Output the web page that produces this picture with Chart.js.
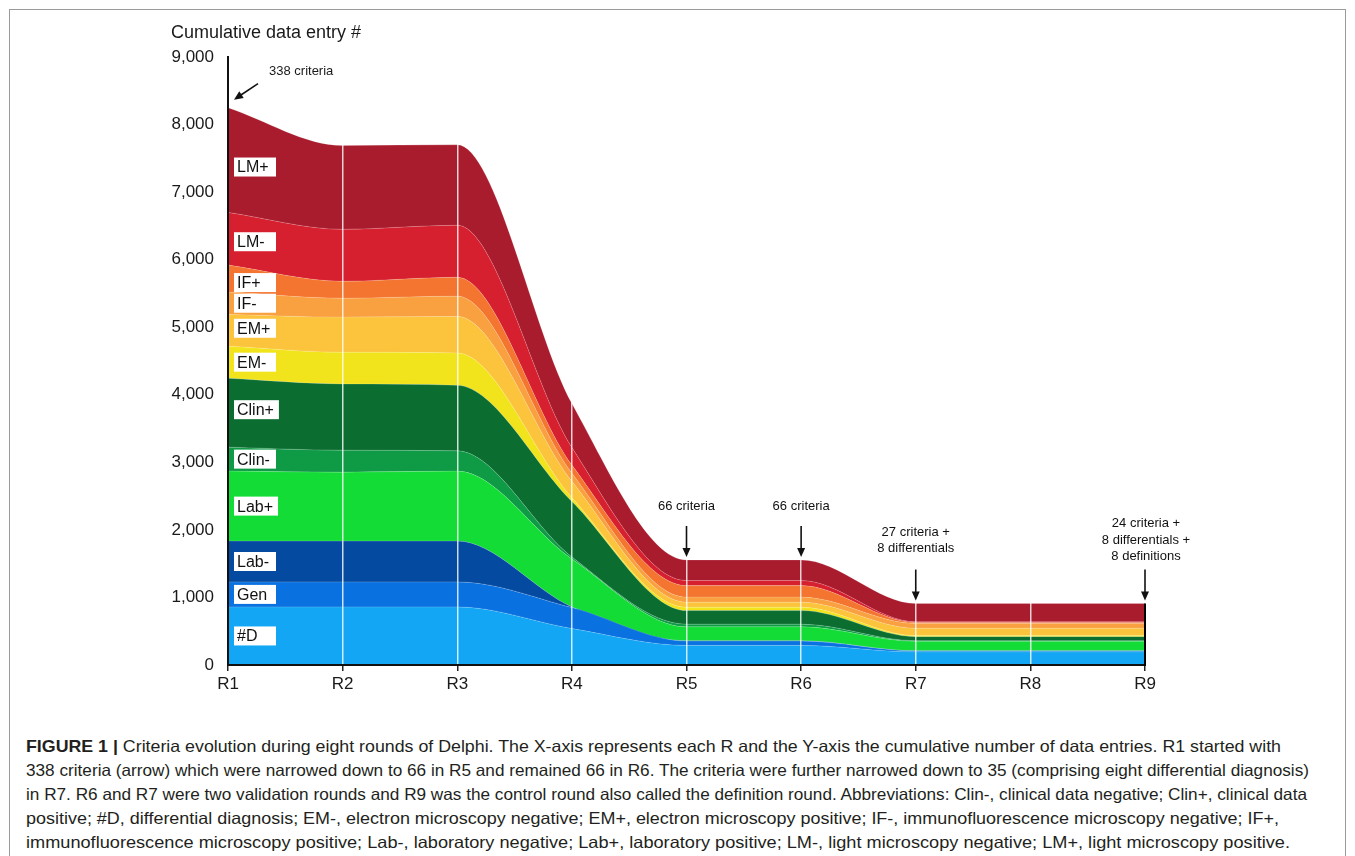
<!DOCTYPE html>
<html>
<head>
<meta charset="utf-8">
<script src="https://cdn.jsdelivr.net/npm/chart.js@4.4.1/dist/chart.umd.min.js"></script>
<style>
body{margin:0;background:#fff;width:1355px;height:856px;overflow:hidden;position:relative;font-family:"Liberation Sans",Arial,sans-serif;}
#frame{position:absolute;left:9px;top:9px;right:9px;bottom:-20px;border:1px solid #9a9a9a;}
#chart{position:absolute;left:0;top:0;}
#caption{position:absolute;left:26px;top:734px;color:#231f20;font-size:16.5px;}
#caption div{white-space:nowrap;height:24px;line-height:24px;transform-origin:0 50%;}
</style>
</head>
<body>
<div id="frame"></div>
<canvas id="chart" width="1355" height="720"></canvas>
<div id="caption">
<div><b>FIGURE 1 |</b> Criteria evolution during eight rounds of Delphi. The X-axis represents each R and the Y-axis the cumulative number of data entries. R1 started with</div>
<div>338 criteria (arrow) which were narrowed down to 66 in R5 and remained 66 in R6. The criteria were further narrowed down to 35 (comprising eight differential diagnosis)</div>
<div>in R7. R6 and R7 were two validation rounds and R9 was the control round also called the definition round. Abbreviations: Clin-, clinical data negative; Clin+, clinical data</div>
<div>positive; #D, differential diagnosis; EM-, electron microscopy negative; EM+, electron microscopy positive; IF-, immunofluorescence microscopy negative; IF+,</div>
<div>immunofluorescence microscopy positive; Lab-, laboratory negative; Lab+, laboratory positive; LM-, light microscopy negative; LM+, light microscopy positive.</div>
</div>
<script>
// rounds on the x axis
var rounds=['R1','R2','R3','R4','R5','R6','R7','R8','R9'];
var yTicks=[0,1000,2000,3000,4000,5000,6000,7000,8000,9000];

// series, bottom to top of the stack
var seriesNames=['#D','Gen','Lab-','Lab+','Clin-','Clin+','EM-','EM+','IF-','IF+','LM-','LM+'];
var dD   =[860,860,860,540,290,290,195,195,195];
var gen  =[370,370,370,310, 65, 65, 15, 15, 15];
var labN =[604,604,604, 10,  5,  5,  0,  0,  0];
var labP =[1036,1021,1036,710,205,205,140,140,140];
var clinN=[355,325,300, 30, 40, 40, 10, 10, 10];
var clinP=[1020,980,970,820,200,200, 60, 60, 60];
var emN  =[475,470,480, 60, 50, 50, 15, 15, 15];
var emP  =[470,520,540,240, 75, 75,110,110,110];
var ifN  =[330,280,300,120, 75, 75, 70, 70, 70];
var ifP  =[400,250,280,120,170,170, 15, 15, 15];
var lmN  =[780,770,770,260, 75, 75, 10, 10, 10];
var lmP  =[1550,1240,1190,650,305,305,270,270,270];

var colors=['#12a6f4','#0a72e0','#034aa0','#14dc36','#0f9a46','#0b6e30','#f2e41c','#fcc33c','#f9a040','#f47530','#d7202f','#a91c2e'];
// small nudges of the label boxes at R1 (px)
var labelShift=[0,0,0,0,0,-3,0,-2,0,4,3,7];

// annotations above the stack
var notes=[
  {at:4,lines:['66 criteria']},
  {at:5,lines:['66 criteria']},
  {at:6,lines:['27 criteria +','8 differentials']},
  {at:8,lines:['24 criteria +','8 differentials +','8 definitions']}
];

var allSeries=[dD,gen,labN,labP,clinN,clinP,emN,emP,ifN,ifP,lmN,lmP];
var datasets=[];
for(var i=0;i<allSeries.length;i++){
  datasets.push({
    label:seriesNames[i],
    data:allSeries[i],
    backgroundColor:colors[i],
    borderColor:'rgba(255,255,255,0.18)',
    borderWidth:1,
    fill:i==0?'origin':'-1',
    pointRadius:0,
    cubicInterpolationMode:'monotone'
  });
}

function totalAt(k){
  var s=0;
  for(var i=0;i<allSeries.length;i++) s+=allSeries[i][k];
  return s;
}

function arrow(c,x1,y1,x2,y2){
  var a=Math.atan2(y2-y1,x2-x1);
  c.strokeStyle='#111';c.fillStyle='#111';c.lineWidth=1.6;
  c.beginPath();c.moveTo(x1,y1);
  c.lineTo(x2-7*Math.cos(a),y2-7*Math.sin(a));c.stroke();
  c.beginPath();
  c.moveTo(x2,y2);
  c.lineTo(x2-9*Math.cos(a)+4*Math.sin(a),y2-9*Math.sin(a)-4*Math.cos(a));
  c.lineTo(x2-9*Math.cos(a)-4*Math.sin(a),y2-9*Math.sin(a)+4*Math.cos(a));
  c.closePath();c.fill();
}

var extras={
  id:'extras',
  afterDraw:function(chart){
    var c=chart.ctx,xs=chart.scales.x,ys=chart.scales.y;
    c.save();
    // right edge of the stack at R9
    var xe=xs.getPixelForValue(8);
    c.strokeStyle='#000';c.lineWidth=2;
    c.beginPath();c.moveTo(xe,ys.getPixelForValue(totalAt(8)));c.lineTo(xe,ys.getPixelForValue(0)+1);c.stroke();

    // series labels at R1
    var base=0;
    c.font='16px "Liberation Sans", Arial, sans-serif';
    c.textBaseline='middle';c.textAlign='left';
    for(var i=0;i<allSeries.length;i++){
      var mid=ys.getPixelForValue(base+allSeries[i][0]/2)+labelShift[i];
      base+=allSeries[i][0];
      var bw=Math.max(42,c.measureText(seriesNames[i]).width+8);
      c.fillStyle='#fff';
      c.fillRect(xs.getPixelForValue(0)+6,mid-9.5,bw,19);
      c.fillStyle='#111';
      c.fillText(seriesNames[i],xs.getPixelForValue(0)+9,mid+1);
    }

    // title of y axis
    c.font='18px "Liberation Sans", Arial, sans-serif';
    c.fillStyle='#1a1a1a';
    c.fillText('Cumulative data entry #',171,33);

    // 338 criteria
    c.font='13px "Liberation Sans", Arial, sans-serif';
    c.textAlign='left';
    c.fillText('338 criteria',269,71);
    var x0=xs.getPixelForValue(0),y0=ys.getPixelForValue(totalAt(0));
    arrow(c,x0+30,y0-24,x0+6,y0-8);

    // arrows to later rounds
    c.textAlign='center';
    for(var n=0;n<notes.length;n++){
      var nt=notes[n];
      var px=xs.getPixelForValue(nt.at);
      var top=ys.getPixelForValue(totalAt(nt.at));
      var tip=top-3,start=top-34;
      arrow(c,px,start,px,tip);
      var gap=nt.lines.length==1?20:(nt.lines.length==2?21:13);
      for(var l=0;l<nt.lines.length;l++){
        var ly=start-gap-(nt.lines.length-1-l)*16.5;
        c.fillText(nt.lines[l],px+(nt.lines.length==3?1:0),ly);
      }
    }
    c.restore();
  }
};

var ctx=document.getElementById('chart');
new Chart(ctx,{
  type:'line',
  data:{labels:rounds,datasets:datasets},
  options:{
    responsive:false,
    animation:false,
    layout:{padding:{top:57,right:210,left:0,bottom:0}},
    plugins:{legend:{display:false},tooltip:{enabled:false}},
    scales:{
      x:{
        grid:{
          z:1,
          color:function(g){return g.index==8||g.index==0?'rgba(0,0,0,0)':'rgba(255,255,255,0.8)';},
          lineWidth:1.5,
          drawTicks:true,
          tickLength:6,
          tickColor:'#222'
        },
        border:{display:true,color:'#111',width:2,z:2},
        ticks:{color:'#1a1a1a',font:{size:17,family:'"Liberation Sans", Arial, sans-serif'},padding:3,maxRotation:0},
        afterFit:function(s){s.height=55;}
      },
      y:{
        stacked:true,
        min:0,max:9000,
        afterBuildTicks:function(s){s.ticks=yTicks.map(function(v){return {value:v};});},
        grid:{display:false,drawTicks:false},
        border:{display:true,color:'#111',width:2,z:2},
        ticks:{
          color:'#1a1a1a',
          font:{size:17,family:'"Liberation Sans", Arial, sans-serif'},
          padding:14,
          callback:function(v){return v.toLocaleString('en-US');}
        },
        afterFit:function(s){s.width=228;}
      }
    }
  },
  plugins:[extras]
});

// stretch caption lines to the measured widths of the figure
var lineEnds=[1281,1309,1307,1279,1290];
var rows=document.querySelectorAll('#caption div');
for(var r=0;r<rows.length;r++){
  var span=document.createElement('span');
  span.innerHTML=rows[r].innerHTML;
  rows[r].innerHTML='';
  rows[r].appendChild(span);
  var w=span.getBoundingClientRect().width;
  rows[r].style.transform='scaleX('+((lineEnds[r]-26)/w)+')';
}
</script>
</body>
</html>
